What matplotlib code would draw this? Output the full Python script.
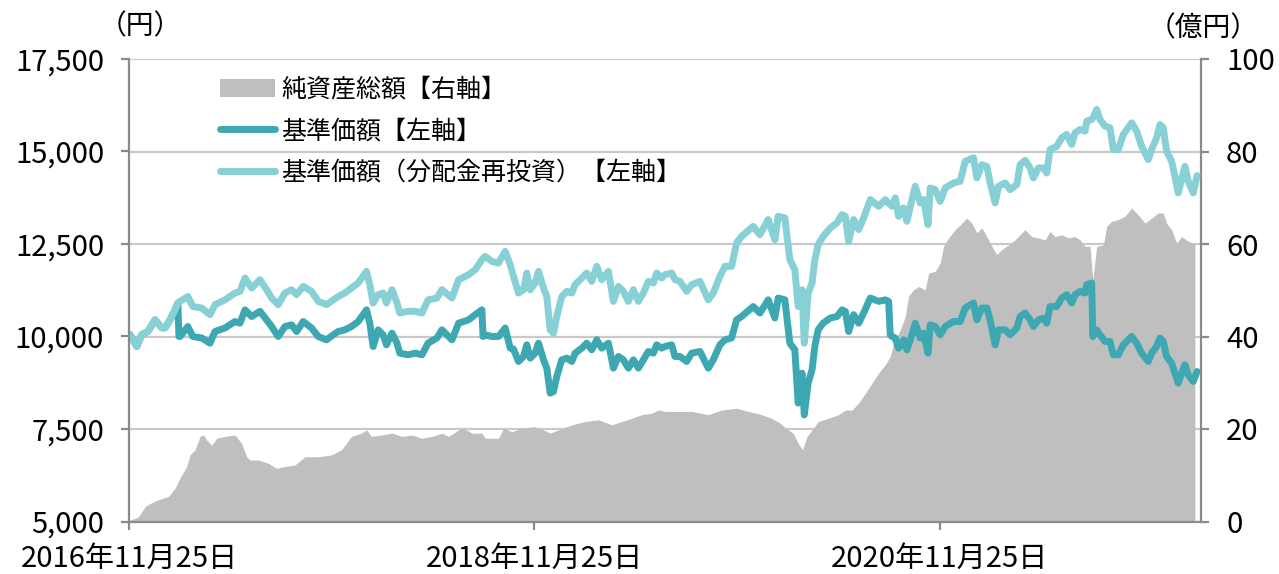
import pandas as pd
import matplotlib.pyplot as plt
from matplotlib.lines import Line2D
from matplotlib.patches import Patch
from matplotlib.ticker import FuncFormatter

plt.rcParams['font.family'] = ['Noto Sans CJK JP', 'DejaVu Sans']

# fund launch date, all series are given as days elapsed since it
launch = pd.Timestamp('2016-11-25')

nav_days = [2, 14, 23, 34, 47, 59, 65, 74, 83, 88, 90, 92, 106, 115, 131, 146, 155, 173, 191, 200,
            209, 221, 236, 248, 257, 269, 281, 293, 302, 314, 329, 341, 356, 368, 377, 389, 401, 413, 428, 434,
            440, 449, 458, 464, 474, 483, 488, 503, 516, 528, 539, 555, 564, 582, 594, 612, 624, 636, 638, 642,
            654, 666, 678, 687, 693, 702, 711, 717, 723, 732, 738, 747, 753, 759, 765, 771, 780, 789, 798, 804,
            816, 825, 834, 843, 852, 864, 873, 882, 891, 900, 909, 918, 927, 936, 945, 951, 960, 966, 978, 984,
            993, 1005, 1014, 1029, 1044, 1053, 1065, 1074, 1086, 1095, 1104, 1125, 1137, 1152, 1164, 1170, 1182, 1191, 1200, 1206,
            1213, 1217, 1224, 1231, 1236, 1242, 1251, 1264, 1276, 1285, 1291, 1297, 1306, 1315, 1324, 1336, 1351, 1363, 1369, 1372,
            1375, 1381, 1387, 1396, 1402, 1411, 1417, 1426, 1432, 1440, 1444, 1453, 1462, 1471, 1486, 1498, 1507, 1522, 1528, 1537,
            1546, 1552, 1561, 1567, 1579, 1588, 1600, 1606, 1615, 1624, 1630, 1639, 1648, 1654, 1660, 1672, 1681, 1690, 1699, 1705,
            1714, 1723, 1726, 1735, 1737, 1744, 1750, 1759, 1768, 1774, 1783, 1792, 1807, 1816, 1825, 1837, 1843, 1852, 1858, 1864,
            1870, 1879, 1885, 1891, 1897, 1903, 1909, 1918, 1925]

# 基準価額（分配金再投資）
nav_reinvest = [10050, 9730, 10050, 10135, 10450, 10235, 10235, 10450, 10720, 10900, 10930, 10950, 11080, 10810, 10770, 10590, 10860, 10990, 11175, 11220,
                11580, 11310, 11535, 11265, 11040, 10860, 11175, 11265, 11130, 11355, 11220, 10950, 10860, 10990, 11080, 11175, 11310, 11445, 11760, 11400,
                10905, 11130, 11175, 10905, 11265, 10905, 10635, 10680, 10680, 10635, 10990, 11040, 11265, 11040, 11535, 11670, 11805, 12075, 12110, 12165,
                12030, 11985, 12300, 11940, 11625, 11175, 11265, 11715, 11265, 11445, 11760, 11310, 11080, 10180, 10090, 10540, 11080, 11220, 11175, 11400,
                11580, 11715, 11490, 11895, 11535, 11760, 10950, 11355, 11220, 10950, 11265, 10950, 11175, 11490, 11445, 11715, 11580, 11670, 11715, 11535,
                11490, 11220, 11400, 11490, 10990, 11175, 11625, 11895, 11895, 12530, 12705, 12975, 12750, 13160, 12615, 13250, 13205, 12075, 11805, 10810,
                11265, 9820, 11175, 11445, 12075, 12480, 12705, 12935, 13070, 13295, 13250, 12570, 13160, 12890, 13205, 13700, 13520, 13700, 13600, 13580,
                13520, 13745, 13250, 13475, 13115, 13700, 14060, 13610, 13700, 13025, 14015, 13970, 13655, 14015, 14150, 14195, 14735, 14830, 14285, 14645,
                14600, 14150, 13610, 14060, 14150, 13970, 14105, 14645, 14760, 14555, 14285, 14555, 14555, 14420, 15055, 15140, 15370, 15460, 15190, 15505,
                15595, 15550, 15820, 15865, 15900, 16135, 15865, 15685, 15640, 15055, 15055, 15460, 15775, 15550, 15140, 14780, 15055, 15370, 15730, 15640,
                15010, 14735, 14330, 13880, 14240, 14600, 14195, 13880, 14350]

# 基準価額
nav = [10050, 9730, 10050, 10135, 10450, 10235, 10235, 10450, 10720, 10900, 10000, 10000, 10270, 10000, 9960, 9820, 10135, 10230, 10405, 10360,
       10720, 10540, 10680, 10450, 10270, 10000, 10270, 10315, 10135, 10405, 10230, 10000, 9910, 10045, 10135, 10180, 10270, 10405, 10720, 10360,
       9730, 10180, 10045, 9775, 10090, 9820, 9550, 9505, 9550, 9505, 9820, 9960, 10180, 9910, 10360, 10450, 10590, 10720, 10000, 10045,
       10000, 10000, 10230, 9685, 9660, 9325, 9460, 9775, 9415, 9550, 9820, 9370, 9145, 8470, 8510, 8920, 9370, 9415, 9325, 9550,
       9685, 9820, 9640, 9910, 9685, 9820, 9145, 9460, 9370, 9145, 9370, 9145, 9370, 9595, 9550, 9775, 9685, 9730, 9775, 9460,
       9460, 9325, 9550, 9595, 9145, 9370, 9775, 9910, 9960, 10450, 10540, 10810, 10635, 10990, 10500, 11040, 10990, 9820, 9640, 8200,
       9010, 7880, 8740, 9100, 9730, 10180, 10360, 10500, 10540, 10720, 10680, 10135, 10590, 10360, 10635, 11040, 10950, 10990, 10950, 10045,
       10000, 9960, 9685, 9910, 9640, 10045, 10360, 9960, 10090, 9550, 10315, 10270, 10045, 10270, 10405, 10405, 10770, 10905, 10450, 10770,
       10770, 10450, 9775, 10180, 10180, 10045, 10230, 10540, 10635, 10450, 10270, 10450, 10495, 10360, 10810, 10810, 11040, 11130, 10905, 11130,
       11220, 11175, 11400, 11445, 10000, 10180, 10045, 9865, 9865, 9505, 9505, 9775, 10000, 9820, 9550, 9325, 9550, 9730, 9960, 9865,
       9460, 9280, 9010, 8740, 9010, 9235, 8965, 8785, 9055]

aum_days = [2, 17, 29, 38, 53, 71, 83, 92, 104, 110, 119, 128, 134, 140, 149, 158, 173, 191, 203, 212,
            218, 233, 251, 266, 281, 299, 317, 341, 365, 383, 392, 401, 419, 428, 437, 455, 474, 492, 510, 528,
            546, 564, 576, 594, 603, 618, 636, 642, 666, 675, 690, 708, 732, 747, 759, 774, 798, 822, 846, 870,
            888, 906, 924, 942, 954, 966, 990, 1014, 1044, 1068, 1095, 1116, 1140, 1158, 1173, 1188, 1197, 1206, 1214, 1222,
            1231, 1242, 1260, 1279, 1291, 1303, 1315, 1327, 1339, 1351, 1363, 1372, 1378, 1390, 1399, 1405, 1414, 1423, 1435, 1441,
            1453, 1462, 1468, 1477, 1489, 1501, 1510, 1519, 1528, 1537, 1546, 1555, 1564, 1573, 1585, 1597, 1606, 1615, 1627, 1639,
            1651, 1660, 1669, 1681, 1693, 1705, 1714, 1723, 1732, 1737, 1744, 1756, 1762, 1771, 1783, 1795, 1807, 1819, 1831, 1843,
            1855, 1864, 1870, 1879, 1888, 1897, 1909, 1918, 1921]

# 純資産総額（億円）
aum = [0.3, 1.0, 3.2, 3.9, 4.7, 5.4, 7.2, 9.4, 11.9, 14.4, 15.5, 18.4, 18.7, 17.6, 16.5, 18.0, 18.4, 18.7, 16.9, 14.0,
       13.3, 13.3, 12.6, 11.5, 11.9, 12.2, 14.0, 14.0, 14.4, 15.5, 16.9, 18.4, 19.1, 19.8, 18.4, 18.7, 19.1, 18.4, 18.7, 18.0,
       18.4, 19.1, 18.4, 19.8, 20.2, 19.1, 19.1, 18.0, 18.0, 20.2, 19.4, 20.2, 20.5, 19.8, 19.1, 19.8, 20.9, 21.6, 22.0, 20.9,
       21.6, 22.3, 23.1, 23.4, 24.1, 23.8, 23.8, 23.8, 23.1, 24.1, 24.5, 23.8, 23.1, 22.3, 21.3, 19.8, 19.1, 16.9, 15.5, 18.4,
       19.8, 21.6, 22.3, 23.1, 24.1, 24.1, 25.6, 27.7, 29.9, 32.1, 33.9, 35.7, 38.6, 41.4, 44.3, 48.7, 50.1, 50.8, 50.1, 53.7,
       54.1, 55.9, 59.5, 61.3, 63.1, 64.5, 65.6, 64.5, 62.4, 63.5, 61.6, 59.5, 57.7, 58.8, 59.8, 60.9, 62.0, 63.1, 61.6, 61.3,
       60.9, 62.7, 61.6, 62.0, 61.3, 61.6, 60.9, 59.5, 59.5, 52.3, 59.5, 59.8, 63.8, 64.9, 65.3, 66.0, 67.8, 66.3, 64.5, 65.6,
       66.7, 66.7, 64.5, 63.1, 60.2, 61.6, 60.6, 60.2, 60.2]

tick_dates = ['2016-11-25', '2018-11-25', '2020-11-25']
tick_labels = ['2016年11月25日', '2018年11月25日', '2020年11月25日']
left_ticks = [5000, 7500, 10000, 12500, 15000, 17500]
right_ticks = [0, 20, 40, 60, 80, 100]

legend_labels = ['純資産総額【右軸】', '基準価額【左軸】', '基準価額（分配金再投資）【左軸】']

c_aum = '#bfbfbf'
c_nav = '#3ea8b2'
c_reinv = '#87d0d6'
c_grid = '#c9c9c9'
c_spine = '#8a8a8a'
lw = 5

nav_x = launch + pd.to_timedelta(nav_days, unit='D')
aum_x = launch + pd.to_timedelta(aum_days, unit='D')

fig = plt.figure(figsize=(12.79, 5.74), dpi=100)
ax2 = fig.add_axes([129 / 1279, 1 - 521.5 / 574, 1072 / 1279, 462.5 / 574])
ax = ax2.twinx()
# put the price axes above the aum axes so the lines sit over the fill
ax.set_zorder(ax2.get_zorder() + 1)
ax.patch.set_visible(False)
ax.yaxis.tick_left()
ax2.yaxis.tick_right()

ax2.fill_between(aum_x, 0, aum, color=c_aum, linewidth=0, zorder=2)
ax2.set_ylim(0, 100)
ax2.set_yticks(right_ticks)
ax2.grid(axis='y', color=c_grid, linewidth=1.6, zorder=0)
ax2.set_axisbelow(True)

ax.plot(nav_x, nav, color=c_nav, linewidth=lw, solid_joinstyle='round', solid_capstyle='round')
ax.plot(nav_x, nav_reinvest, color=c_reinv, linewidth=lw, solid_joinstyle='round', solid_capstyle='round')
ax.set_ylim(5000, 17500)
ax.set_yticks(left_ticks)
ax.yaxis.set_major_formatter(FuncFormatter(lambda v, p: f'{v:,.0f}'))

ax2.set_xlim(launch, launch + pd.Timedelta(days=1932))
ax2.set_xticks(pd.to_datetime(tick_dates))
ax2.set_xticklabels(tick_labels)

for a in (ax, ax2):
    for s in a.spines.values():
        s.set_visible(False)

ax.spines['left'].set_visible(True)
ax.spines['bottom'].set_visible(True)
ax2.spines['right'].set_visible(True)
for s in (ax.spines['left'], ax.spines['bottom'], ax2.spines['right']):
    s.set_color(c_spine)
    s.set_linewidth(1.6)

ax.tick_params(axis='y', length=6, width=1.6, color=c_spine, labelsize=21, pad=12)
ax2.tick_params(axis='y', length=6, width=1.6, color=c_spine, labelsize=21, pad=12)
ax2.tick_params(axis='x', length=6, width=1.6, color=c_spine, labelsize=21, pad=10)

handles = [Patch(color=c_aum, linewidth=0),
           Line2D([], [], color=c_nav, linewidth=lw, solid_capstyle='round'),
           Line2D([], [], color=c_reinv, linewidth=lw, solid_capstyle='round')]
ax.legend(handles, legend_labels, loc='upper left', bbox_to_anchor=(0.085, 0.962),
          frameon=False, fontsize=18, borderpad=0, borderaxespad=0,
          handlelength=2.2, handletextpad=0.25, labelspacing=0.62)

fig.text(140 / 1279, 1 - 26 / 574, '（円）', fontsize=20, ha='center', va='center')
fig.text(1203 / 1279, 1 - 28 / 574, '（億円）', fontsize=20, ha='center', va='center')

fig.savefig('out.png', dpi=100, facecolor='white')
